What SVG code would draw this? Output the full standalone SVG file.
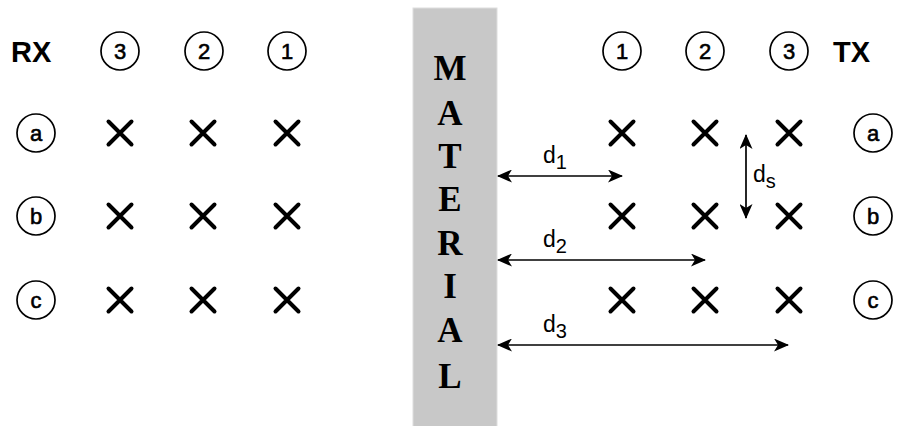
<svg xmlns="http://www.w3.org/2000/svg" width="897" height="426" viewBox="0 0 897 426">
  <defs>
    <style>
      .lbl { font-family: "Liberation Sans", Arial, sans-serif; font-weight: bold; font-size: 29px; fill: #000; }
      .num { font-family: "Liberation Sans", Arial, sans-serif; font-size: 22px; fill: #000; stroke: #000; stroke-width: 0.6; text-anchor: middle; }
      .ring { fill: #fff; stroke: #000; stroke-width: 1.7; }
      .cross { stroke: #000; stroke-width: 4; stroke-linecap: round; fill: none; }
      .mat { font-family: "Liberation Serif", "Times New Roman", serif; font-weight: bold; font-size: 35px; fill: #000; text-anchor: middle; }
      .dim { stroke: #000; stroke-width: 1.7; fill: none; marker-start: url(#head); marker-end: url(#head); }
      .dl { font-family: "Liberation Sans", Arial, sans-serif; font-size: 23px; fill: #000; }
      .sub { font-size: 20px; }
    </style>
    <marker id="head" viewBox="0 0 15 13" refX="14" refY="6.5" markerWidth="15" markerHeight="13" markerUnits="userSpaceOnUse" orient="auto-start-reverse">
      <path d="M0,0 L15,6.5 L0,13 L4,6.5 Z" fill="#000"/>
    </marker>
    <g id="x">
      <path class="cross" d="M-11.5,-11.5 L11.5,11.5 M11.5,-11.5 L-11.5,11.5"/>
    </g>
  </defs>

  <rect width="897" height="426" fill="#fff"/>

  <!-- material slab -->
  <g id="material">
    <rect x="413" y="8" width="84" height="430" fill="#c8c8c8" stroke="#dedede" stroke-width="1"/>
    <text class="mat" x="450" y="80">M</text>
    <text class="mat" x="450" y="125">A</text>
    <text class="mat" x="450" y="168">T</text>
    <text class="mat" x="450" y="211">E</text>
    <text class="mat" x="450" y="255">R</text>
    <text class="mat" x="450" y="298">I</text>
    <text class="mat" x="450" y="342">A</text>
    <text class="mat" x="450" y="388">L</text>
  </g>

  <!-- receiver array -->
  <g id="rx">
    <text class="lbl" x="11" y="62">RX</text>
    <g id="rx-col3"><circle class="ring" cx="120" cy="51" r="19"/><text class="num" x="120" y="59">3</text></g>
    <g id="rx-col2"><circle class="ring" cx="204" cy="51" r="19"/><text class="num" x="204" y="59">2</text></g>
    <g id="rx-col1"><circle class="ring" cx="287" cy="51" r="19"/><text class="num" x="287" y="59">1</text></g>
    <g id="rx-rowa"><circle class="ring" cx="36" cy="133" r="19"/><text class="num" x="36" y="141">a</text></g>
    <g id="rx-rowb"><circle class="ring" cx="36" cy="216" r="19"/><text class="num" x="36" y="224">b</text></g>
    <g id="rx-rowc"><circle class="ring" cx="36" cy="300" r="19"/><text class="num" x="36" y="308">c</text></g>
    <use href="#x" x="120" y="133"/><use href="#x" x="203" y="133"/><use href="#x" x="287" y="133"/>
    <use href="#x" x="120" y="216"/><use href="#x" x="203" y="216"/><use href="#x" x="287" y="216"/>
    <use href="#x" x="120" y="300"/><use href="#x" x="203" y="300"/><use href="#x" x="287" y="300"/>
  </g>

  <!-- transmitter array -->
  <g id="tx">
    <text class="lbl" x="833" y="62">TX</text>
    <g id="tx-col1"><circle class="ring" cx="622" cy="51" r="19"/><text class="num" x="622" y="59">1</text></g>
    <g id="tx-col2"><circle class="ring" cx="705" cy="51" r="19"/><text class="num" x="705" y="59">2</text></g>
    <g id="tx-col3"><circle class="ring" cx="789" cy="51" r="19"/><text class="num" x="789" y="59">3</text></g>
    <g id="tx-rowa"><circle class="ring" cx="873" cy="133" r="19"/><text class="num" x="873" y="141">a</text></g>
    <g id="tx-rowb"><circle class="ring" cx="873" cy="216" r="19"/><text class="num" x="873" y="224">b</text></g>
    <g id="tx-rowc"><circle class="ring" cx="873" cy="300" r="19"/><text class="num" x="873" y="308">c</text></g>
    <use href="#x" x="622" y="133"/><use href="#x" x="705" y="133"/><use href="#x" x="789" y="133"/>
    <use href="#x" x="622" y="216"/><use href="#x" x="705" y="216"/><use href="#x" x="789" y="216"/>
    <use href="#x" x="622" y="300"/><use href="#x" x="705" y="300"/><use href="#x" x="789" y="300"/>
  </g>

  <!-- distance dimensions -->
  <g id="connectors">
    <line class="dim" x1="498" y1="176" x2="622" y2="176"/>
    <line class="dim" x1="498" y1="260" x2="705" y2="260"/>
    <line class="dim" x1="498" y1="345" x2="788" y2="345"/>
    <line class="dim" x1="746" y1="135" x2="746" y2="218"/>
  </g>

  <g id="labels">
    <text class="dl" x="543" y="163">d<tspan class="sub" dy="6">1</tspan></text>
    <text class="dl" x="543" y="247">d<tspan class="sub" dy="6">2</tspan></text>
    <text class="dl" x="543" y="332">d<tspan class="sub" dy="6">3</tspan></text>
    <text class="dl" x="753" y="182">d<tspan class="sub" dy="6">s</tspan></text>
  </g>
</svg>
